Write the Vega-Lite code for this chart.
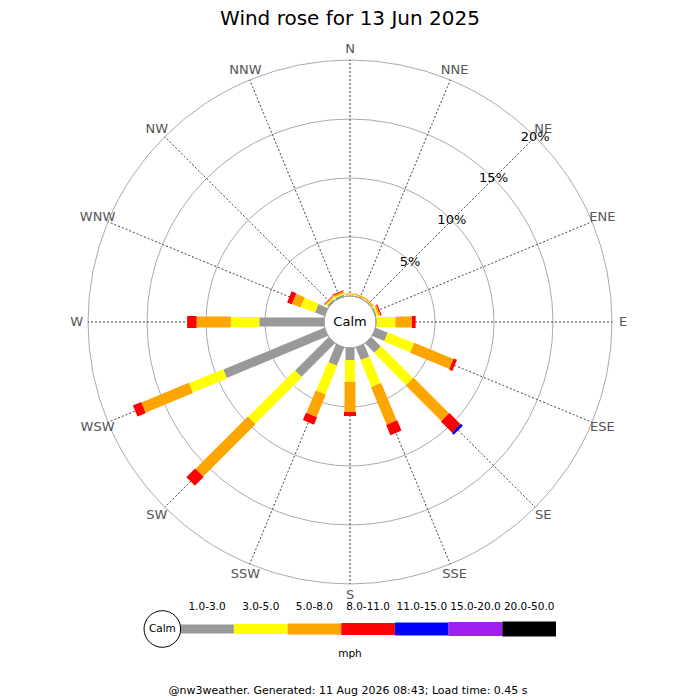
{
  "$schema": "https://vega.github.io/schema/vega-lite/v6.json",
  "width": 700,
  "height": 644,
  "autosize": "none",
  "padding": {"left": 0, "top": 0, "right": 0, "bottom": 56},
  "background": "white",
  "title": {"text": "Wind rose for 13 Jun 2025", "fontSize": 20, "font": "DejaVu Sans", "fontWeight": "normal", "color": "#000000", "anchor": "middle", "offset": -29},
  "config": {"view": {"stroke": null}, "text": {"font": "DejaVu Sans"}},
  "datasets": {
    "wind": [
      {"d": "N", "a": 0, "s": "1.0-3.0", "k": 1, "p": 0.05},
      {"d": "NNE", "a": 22.5, "s": "1.0-3.0", "k": 1, "p": 0.05},
      {"d": "NE", "a": 45, "s": "1.0-3.0", "k": 1, "p": 0.05},
      {"d": "ENE", "a": 67.5, "s": "1.0-3.0", "k": 1, "p": 0.1},
      {"d": "E", "a": 90, "s": "1.0-3.0", "k": 1, "p": 0.05},
      {"d": "ESE", "a": 112.5, "s": "1.0-3.0", "k": 1, "p": 1.1},
      {"d": "SE", "a": 135, "s": "1.0-3.0", "k": 1, "p": 1.1},
      {"d": "SSE", "a": 157.5, "s": "1.0-3.0", "k": 1, "p": 1.13},
      {"d": "S", "a": 180, "s": "1.0-3.0", "k": 1, "p": 1.02},
      {"d": "SSW", "a": 202.5, "s": "1.0-3.0", "k": 1, "p": 1.65},
      {"d": "SW", "a": 225, "s": "1.0-3.0", "k": 1, "p": 3.99},
      {"d": "WSW", "a": 247.5, "s": "1.0-3.0", "k": 1, "p": 9.26},
      {"d": "W", "a": 270, "s": "1.0-3.0", "k": 1, "p": 5.48},
      {"d": "WNW", "a": 292.5, "s": "1.0-3.0", "k": 1, "p": 0.85},
      {"d": "NW", "a": 315, "s": "1.0-3.0", "k": 1, "p": 0.15},
      {"d": "NNW", "a": 337.5, "s": "1.0-3.0", "k": 1, "p": 0.15},
      {"d": "N", "a": 0, "s": "3.0-5.0", "k": 2, "p": 0.07},
      {"d": "NNE", "a": 22.5, "s": "3.0-5.0", "k": 2, "p": 0.05},
      {"d": "NE", "a": 45, "s": "3.0-5.0", "k": 2, "p": 0.05},
      {"d": "ENE", "a": 67.5, "s": "3.0-5.0", "k": 2, "p": 0.15},
      {"d": "E", "a": 90, "s": "3.0-5.0", "k": 2, "p": 1.6},
      {"d": "ESE", "a": 112.5, "s": "3.0-5.0", "k": 2, "p": 2.4},
      {"d": "SE", "a": 135, "s": "3.0-5.0", "k": 2, "p": 3.85},
      {"d": "SSE", "a": 157.5, "s": "3.0-5.0", "k": 2, "p": 2.45},
      {"d": "S", "a": 180, "s": "3.0-5.0", "k": 2, "p": 1.83},
      {"d": "SSW", "a": 202.5, "s": "3.0-5.0", "k": 2, "p": 2.62},
      {"d": "SW", "a": 225, "s": "3.0-5.0", "k": 2, "p": 5.59},
      {"d": "WSW", "a": 247.5, "s": "3.0-5.0", "k": 2, "p": 3.14},
      {"d": "W", "a": 270, "s": "3.0-5.0", "k": 2, "p": 2.42},
      {"d": "WNW", "a": 292.5, "s": "3.0-5.0", "k": 2, "p": 1.29},
      {"d": "NW", "a": 315, "s": "3.0-5.0", "k": 2, "p": 0.12},
      {"d": "NNW", "a": 337.5, "s": "3.0-5.0", "k": 2, "p": 0.12},
      {"d": "N", "a": 0, "s": "5.0-8.0", "k": 3, "p": 0.1},
      {"d": "NNE", "a": 22.5, "s": "5.0-8.0", "k": 3, "p": 0.1},
      {"d": "NE", "a": 45, "s": "5.0-8.0", "k": 3, "p": 0.1},
      {"d": "ENE", "a": 67.5, "s": "5.0-8.0", "k": 3, "p": 0.15},
      {"d": "E", "a": 90, "s": "5.0-8.0", "k": 3, "p": 1.4},
      {"d": "ESE", "a": 112.5, "s": "5.0-8.0", "k": 3, "p": 3.6},
      {"d": "SE", "a": 135, "s": "5.0-8.0", "k": 3, "p": 4.25},
      {"d": "SSE", "a": 157.5, "s": "5.0-8.0", "k": 3, "p": 3.45},
      {"d": "S", "a": 180, "s": "5.0-8.0", "k": 3, "p": 2.57},
      {"d": "SSW", "a": 202.5, "s": "5.0-8.0", "k": 3, "p": 2.06},
      {"d": "SW", "a": 225, "s": "5.0-8.0", "k": 3, "p": 6.27},
      {"d": "WSW", "a": 247.5, "s": "5.0-8.0", "k": 3, "p": 4.35},
      {"d": "W", "a": 270, "s": "5.0-8.0", "k": 3, "p": 2.9},
      {"d": "WNW", "a": 292.5, "s": "5.0-8.0", "k": 3, "p": 0.79},
      {"d": "NW", "a": 315, "s": "5.0-8.0", "k": 3, "p": 0.1},
      {"d": "NNW", "a": 337.5, "s": "5.0-8.0", "k": 3, "p": 0.15},
      {"d": "ENE", "a": 67.5, "s": "8.0-11.0", "k": 4, "p": 0.1},
      {"d": "E", "a": 90, "s": "8.0-11.0", "k": 4, "p": 0.31},
      {"d": "ESE", "a": 112.5, "s": "8.0-11.0", "k": 4, "p": 0.3},
      {"d": "SE", "a": 135, "s": "8.0-11.0", "k": 4, "p": 1.35},
      {"d": "SSE", "a": 157.5, "s": "8.0-11.0", "k": 4, "p": 0.94},
      {"d": "S", "a": 180, "s": "8.0-11.0", "k": 4, "p": 0.34},
      {"d": "SSW", "a": 202.5, "s": "8.0-11.0", "k": 4, "p": 0.67},
      {"d": "SW", "a": 225, "s": "8.0-11.0", "k": 4, "p": 1.05},
      {"d": "WSW", "a": 247.5, "s": "8.0-11.0", "k": 4, "p": 0.75},
      {"d": "W", "a": 270, "s": "8.0-11.0", "k": 4, "p": 0.8},
      {"d": "WNW", "a": 292.5, "s": "8.0-11.0", "k": 4, "p": 0.43},
      {"d": "NW", "a": 315, "s": "8.0-11.0", "k": 4, "p": 0.05},
      {"d": "NNW", "a": 337.5, "s": "8.0-11.0", "k": 4, "p": 0.08},
      {"d": "SE", "a": 135, "s": "11.0-15.0", "k": 5, "p": 0.22}
    ],
    "dirs": [
      {"d": "N", "a": 0}, {"d": "NNE", "a": 22.5}, {"d": "NE", "a": 45}, {"d": "ENE", "a": 67.5},
      {"d": "E", "a": 90}, {"d": "ESE", "a": 112.5}, {"d": "SE", "a": 135}, {"d": "SSE", "a": 157.5},
      {"d": "S", "a": 180}, {"d": "SSW", "a": 202.5}, {"d": "SW", "a": 225}, {"d": "WSW", "a": 247.5},
      {"d": "W", "a": 270}, {"d": "WNW", "a": 292.5}, {"d": "NW", "a": 315}, {"d": "NNW", "a": 337.5}
    ],
    "rings": [
      {"v": 5, "t": "5%"}, {"v": 10, "t": "10%"}, {"v": 15, "t": "15%"}, {"v": 20, "t": "20%"}
    ],
    "classes": [
      {"s": "1.0-3.0"}, {"s": "3.0-5.0"}, {"s": "5.0-8.0"}, {"s": "8.0-11.0"},
      {"s": "11.0-15.0"}, {"s": "15.0-20.0"}, {"s": "20.0-50.0"}
    ],
    "one": [{"c": "Calm"}]
  },
  "layer": [
    {
      "data": {"name": "rings"},
      "mark": {"type": "arc", "filled": false, "stroke": "#aaaaaa", "strokeWidth": 1},
      "encoding": {
        "theta": {"datum": 0, "type": "quantitative", "scale": {"domain": [0, 360], "range": [0, 6.283185307179586]}},
        "theta2": {"datum": 360},
        "radius": {"field": "v", "type": "quantitative", "stack": null, "scale": {"type": "linear", "domain": [0, 20], "range": [26, 262], "zero": false}}
      }
    },
    {
      "data": {"name": "dirs"},
      "mark": {"type": "arc", "filled": false, "stroke": "#000000", "strokeWidth": 0.8, "strokeDash": [1, 3]},
      "encoding": {
        "theta": {"field": "a", "type": "quantitative", "stack": null},
        "theta2": {"field": "a"},
        "radius": {"datum": 0, "type": "quantitative"},
        "radius2": {"datum": 20}
      }
    },
    {
      "data": {"name": "one"},
      "mark": {"type": "arc", "fill": "white", "stroke": null},
      "encoding": {
        "theta": {"datum": 0, "type": "quantitative"},
        "theta2": {"datum": 360},
        "radius": {"datum": 0, "type": "quantitative"}
      }
    },
    {
      "data": {"name": "wind"},
      "transform": [
        {"stack": "p", "groupby": ["d"], "sort": [{"field": "k", "order": "ascending"}], "as": ["r0", "r1"]}
      ],
      "mark": {"type": "arc", "filled": false, "strokeCap": "butt", "strokeJoin": "bevel"},
      "encoding": {
        "theta": {"field": "a", "type": "quantitative", "stack": null},
        "theta2": {"field": "a"},
        "radius": {"field": "r0", "type": "quantitative", "stack": null},
        "radius2": {"field": "r1"},
        "color": {
          "field": "s", "type": "nominal", "legend": null,
          "scale": {
            "domain": ["1.0-3.0", "3.0-5.0", "5.0-8.0", "8.0-11.0", "11.0-15.0", "15.0-20.0", "20.0-50.0"],
            "range": ["#999999", "#ffff00", "#ffa500", "#ff0000", "#0000ff", "#a020f0", "#000000"]
          }
        },
        "strokeWidth": {
          "field": "s", "type": "ordinal", "legend": null,
          "scale": {
            "domain": ["1.0-3.0", "3.0-5.0", "5.0-8.0", "8.0-11.0", "11.0-15.0", "15.0-20.0", "20.0-50.0"],
            "range": [9, 15, 20, 23, 25, 27, 29]
          }
        }
      }
    },
    {
      "data": {"name": "one"},
      "mark": {"type": "text", "fontSize": 13, "align": "center", "baseline": "middle", "color": "#000000"},
      "encoding": {"text": {"field": "c"}}
    },
    {
      "data": {"name": "dirs"},
      "mark": {"type": "text", "fontSize": 13, "align": "center", "baseline": "middle", "color": "#555555"},
      "encoding": {
        "theta": {"field": "a", "type": "quantitative", "stack": null},
        "radius": {"datum": 20.95, "type": "quantitative"},
        "text": {"field": "d"}
      }
    },
    {
      "data": {"name": "rings"},
      "mark": {"type": "text", "fontSize": 13, "align": "center", "baseline": "middle", "color": "#000000"},
      "encoding": {
        "theta": {"datum": 45, "type": "quantitative"},
        "radius": {"field": "v", "type": "quantitative", "stack": null},
        "text": {"field": "t"}
      }
    },
    {
      "data": {"name": "classes"},
      "mark": {"type": "rule", "strokeCap": "butt"},
      "encoding": {
        "x": {"field": "s", "type": "nominal", "bandPosition": 0, "axis": null,
              "scale": {"type": "band", "domain": ["Calm", "1.0-3.0", "3.0-5.0", "5.0-8.0", "8.0-11.0", "11.0-15.0", "15.0-20.0", "20.0-50.0"], "range": [126.5, 556], "paddingInner": 0, "paddingOuter": 0}},
        "x2": {"field": "s", "bandPosition": 1},
        "y": {"datum": 0, "type": "quantitative", "axis": null, "scale": {"domain": [-50, 50], "range": [679, 579]}},
        "color": {"field": "s", "type": "nominal", "legend": null},
        "strokeWidth": {"field": "s", "type": "ordinal", "legend": null}
      }
    },
    {
      "data": {"name": "one"},
      "mark": {"type": "point", "shape": "circle", "size": 1340, "filled": true, "fill": "white", "stroke": "#000000", "strokeWidth": 1, "opacity": 1, "xOffset": 9},
      "encoding": {
        "x": {"field": "c", "type": "nominal"},
        "y": {"datum": 0, "type": "quantitative"}
      }
    },
    {
      "data": {"name": "one"},
      "mark": {"type": "text", "fontSize": 10.5, "align": "center", "baseline": "middle", "dx": 9, "color": "#000000"},
      "encoding": {
        "x": {"field": "c", "type": "nominal"},
        "y": {"datum": 0, "type": "quantitative"},
        "text": {"field": "c"}
      }
    },
    {
      "data": {"name": "classes"},
      "mark": {"type": "text", "fontSize": 10.5, "align": "center", "baseline": "middle", "color": "#000000"},
      "encoding": {
        "x": {"field": "s", "type": "nominal"},
        "y": {"datum": 22, "type": "quantitative"},
        "text": {"field": "s"}
      }
    },
    {
      "data": {"values": [{"u": "mph"}]},
      "mark": {"type": "text", "fontSize": 10.5, "align": "center", "baseline": "middle", "color": "#000000"},
      "encoding": {
        "y": {"datum": -25, "type": "quantitative"},
        "text": {"field": "u"}
      }
    },
    {
      "data": {"values": [{"f": "@nw3weather. Generated: 11 Aug 2026 08:43; Load time: 0.45 s"}]},
      "mark": {"type": "text", "fontSize": 11, "align": "center", "baseline": "middle", "color": "#000000", "dx": -2},
      "encoding": {
        "y": {"datum": -62, "type": "quantitative"},
        "text": {"field": "f"}
      }
    }
  ]
}
